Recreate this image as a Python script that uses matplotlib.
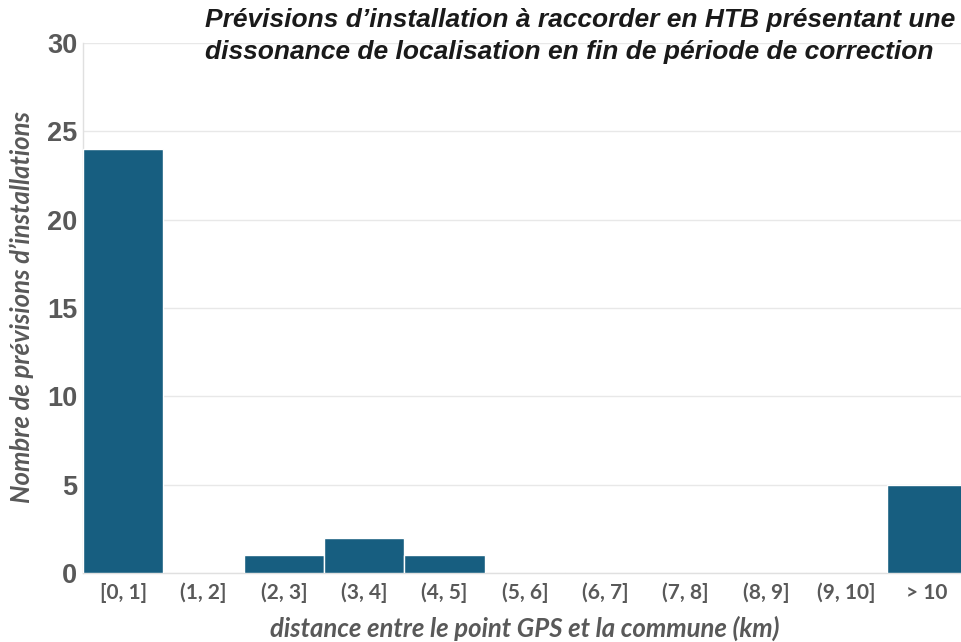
import matplotlib
matplotlib.use("Agg")
import matplotlib.pyplot as plt

categories = ["[0, 1]", "(1, 2]", "(2, 3]", "(3, 4]", "(4, 5]", "(5, 6]",
              "(6, 7]", "(7, 8]", "(8, 9]", "(9, 10]", "> 10"]
counts = [24, 0, 1, 2, 1, 0, 0, 0, 0, 0, 5]
yticks = [0, 5, 10, 15, 20, 25, 30]

bar_color = "#175e80"
grey = "#595959"

fig = plt.figure(figsize=(9.61, 6.42), dpi=100)
# the last category runs slightly past the right edge of the figure
ax = fig.add_axes([83 / 961, 1 - 573 / 642, 884 / 961, (573 - 43) / 642])

x = range(len(categories))
ax.bar(x, counts, width=1.0, color=bar_color, edgecolor="white", linewidth=1, zorder=3)

ax.set_xlim(-0.5, len(categories) - 0.5)
ax.set_ylim(0, 30)
ax.set_yticks(yticks)
ax.set_yticklabels([str(v) for v in yticks], fontsize=19.5, fontweight="bold",
                   color=grey, family="Liberation Sans")
ax.set_xticks(list(x))
ax.set_xticklabels(categories, fontsize=15, fontweight="bold", color=grey, family="Lato")
ax.tick_params(axis="both", length=0)
ax.tick_params(axis="y", pad=4)
ax.tick_params(axis="x", pad=7)

ax.grid(axis="y", color="#e8e8e8", linewidth=1, zorder=0)
for side in ["top", "right"]:
    ax.spines[side].set_visible(False)
for side in ["left", "bottom"]:
    ax.spines[side].set_color("#e0e0e0")
    ax.spines[side].set_linewidth(1)

fig.text(525 / 961, 1 - 628 / 642, "distance entre le point GPS et la commune (km)",
         ha="center", va="center", fontsize=18.5, fontweight="bold", fontstyle="italic",
         color=grey, family="Lato")
fig.text(22 / 961, 1 - 307 / 642, "Nombre de prévisions d’installations",
         ha="center", va="center", rotation=90, fontsize=18.5, fontweight="bold",
         fontstyle="italic", color=grey, family="Lato")

fig.text(205 / 961, 1 - 8 / 642,
         "Prévisions d’installation à raccorder en HTB présentant une\n"
         "dissonance de localisation en fin de période de correction",
         ha="left", va="top", fontsize=19, fontweight="bold", fontstyle="italic",
         color="#1a1a1a", family="Liberation Sans", linespacing=1.4)

fig.savefig("out.png", dpi=100)
